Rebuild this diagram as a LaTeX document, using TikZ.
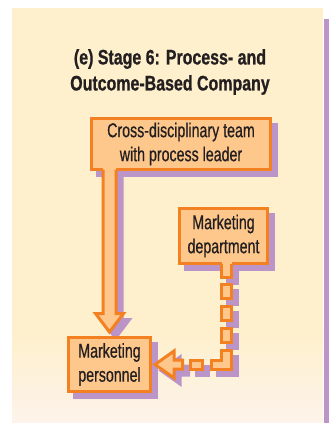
\documentclass[tikz,border=0pt]{standalone}
\usepackage{fontspec}
\setmainfont{Liberation Sans}[FakeStretch=0.71, FakeBold=0.6]
\newfontfamily\headfont{Liberation Sans}[FakeStretch=0.76, FakeBold=0.8]
\usetikzlibrary{calc,positioning,shadows}
\definecolor{panelcream}{RGB}{254,240,204}
\definecolor{panelfade}{RGB}{253,243,234}
\definecolor{boxfill}{RGB}{254,200,140}
\definecolor{boxorange}{RGB}{243,128,33}
\definecolor{shadowpurple}{RGB}{187,148,200}
\definecolor{darktext}{RGB}{35,31,32}
\pgfdeclarelayer{bglayer}
\pgfdeclarelayer{shadowlayer}
\pgfsetlayers{bglayer,shadowlayer,main}
\tikzset{
unitbox/.style={draw=boxorange, fill=boxfill, line width=3pt, text=darktext, align=center,
  font=\fontsize{20}{24}\selectfont, inner sep=0pt,
  drop shadow={shadow xshift=6pt, shadow yshift=-6pt, fill=shadowpurple, draw=shadowpurple, line width=3pt, opacity=1}},
heading/.style={font=\headfont\bfseries\fontsize{21}{26}\selectfont, text=darktext, align=center},
linkbody/.style={draw=boxorange, fill=boxfill, line width=3pt, line join=miter},
linkfill/.style={fill=boxfill},
linkshade/.style={draw=shadowpurple, fill=shadowpurple, line width=3pt, line join=miter},
linkshadefill/.style={fill=shadowpurple}
}

% pieces of both links; #1 = outlined pieces, #2 = fill of the attached pieces
\newcommand\linkshapes[2]{%
  % solid link, team -> personnel
  \fill[#2] ($(shafttop)+(-6.5,-4)$) -- ($(mpers.north)+(-6.5,-22.5)$) -- ($(mpers.north)+(-14,-22.5)$)
    -- ($(mpers.north)+(0,-4)$) -- ($(mpers.north)+(14,-22.5)$) -- ($(mpers.north)+(6.5,-22.5)$)
    -- ($(shafttop)+(6.5,-4)$) -- cycle;
  \draw[#1, fill=none] ($(shafttop)+(-6.5,-1.5)$) -- ($(mpers.north)+(-6.5,-22.5)$) -- ($(mpers.north)+(-14,-22.5)$)
    -- ($(mpers.north)+(0,-4)$) -- ($(mpers.north)+(14,-22.5)$) -- ($(mpers.north)+(6.5,-22.5)$)
    -- ($(shafttop)+(6.5,-1.5)$);
  % dashed link, department -> personnel
  \fill[#2] ($(stubtop)+(-5,-4)$) rectangle ($(stubtop)+(5,12.5)$);
  \draw[#1, fill=none] ($(stubtop)+(-5,-1.5)$) -- ($(stubtop)+(-5,12.5)$) -- ($(stubtop)+(5,12.5)$) -- ($(stubtop)+(5,-1.5)$);
  \foreach \ya in {-80,-58,-36} {
    \filldraw[#1] ($(bend)+(-5,\ya)$) rectangle ($(bend)+(5,\ya+14)$);
  }
  \filldraw[#1] ($(bend)+(-5,-14)$) -- ($(bend)+(5,-14)$) -- ($(bend)+(5,4.5)$) -- ($(bend)+(-15,4.5)$)
    -- ($(bend)+(-15,-4.5)$) -- ($(bend)+(-5,-4.5)$) -- cycle;
  \filldraw[#1] ($(bend)+(-36,-4.5)$) rectangle ($(bend)+(-24,4.5)$);
  \filldraw[#1] ($(bend)+(-44,-4.5)$) -- ($(bend)+(-52.5,-4.5)$) -- ($(bend)+(-52.5,-13.5)$)
    -- ($(mpers.east)+(3,0)$) -- ($(bend)+(-52.5,13.5)$) -- ($(bend)+(-52.5,4.5)$) -- ($(bend)+(-44,4.5)$) -- cycle;
}

\begin{document}
\begin{tikzpicture}[x=1pt,y=-1pt]
\useasboundingbox (0,0) rectangle (329,423);

\begin{pgfonlayer}{bglayer}
\fill[panelcream] (12,8) rectangle (323,330);
\shade[top color=panelcream, bottom color=panelfade] (12,329.5) rectangle (323,423);
\fill[shadowpurple] (324,19) rectangle (329,423);
\end{pgfonlayer}

\node[heading] (title) at (170,72) {(e) Stage 6: Process- and\\Outcome-Based Company};

\node[unitbox, minimum width=179, minimum height=51] (team) at (181,144)
{Cross-disciplinary team\\with process leader};
\node[unitbox, minimum width=88, minimum height=55] (mdept) at (223.5,236)
{Marketing\\department};
\node[unitbox, minimum width=82, minimum height=54] (mpers) at (109.5,364.5)
{Marketing\\personnel};

\coordinate (shafttop) at (mpers.north |- team.south);
\coordinate (stubtop) at ([xshift=3pt]mdept.south);
\coordinate (bend) at ([xshift=3pt]mdept.south |- mpers.east);

\begin{pgfonlayer}{shadowlayer}
\begin{scope}[transform canvas={xshift=6pt, yshift=-6pt}]
\linkshapes{linkshade}{linkshadefill}
\end{scope}
\end{pgfonlayer}

\linkshapes{linkbody}{linkfill}

\end{tikzpicture}
\end{document}
